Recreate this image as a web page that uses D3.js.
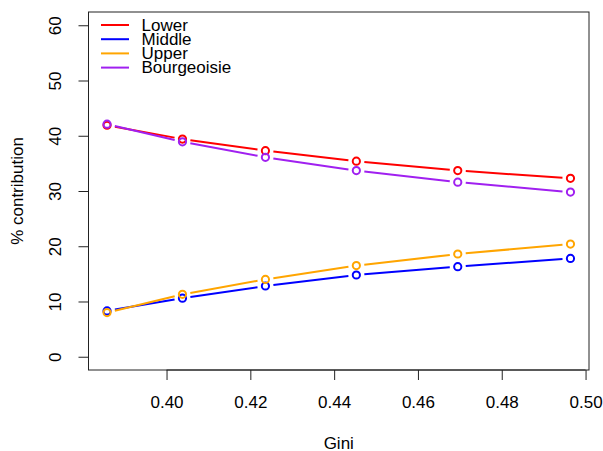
<!DOCTYPE html>
<html>
<head>
<meta charset="utf-8">
<script src="https://cdn.jsdelivr.net/npm/d3@7"></script>
<style>
  body { margin: 0; background: #fff; }
  text { font-family: "Liberation Sans", Arial, sans-serif; fill: #000; }
</style>
</head>
<body>
<div id="chart"></div>
<script>
// data
const gini = [0.3858, 0.4038, 0.4236, 0.4453, 0.4695, 0.4964];
const lower = [41.9, 39.4, 37.3, 35.4, 33.7, 32.3];
const middle = [8.3, 10.6, 12.8, 14.8, 16.3, 17.8];
const upper = [8.0, 11.3, 14.0, 16.5, 18.6, 20.4];
const bourgeoisie = [42.1, 38.9, 36.1, 33.7, 31.6, 29.8];
const seriesNames = ["Lower", "Middle", "Upper", "Bourgeoisie"];
const seriesColors = ["#FF0000", "#0000FF", "#FFA500", "#A020F0"];
const xTicks = [0.40, 0.42, 0.44, 0.46, 0.48, 0.50];
const yTicks = [0, 10, 20, 30, 40, 50, 60];

const series = [lower, middle, upper, bourgeoisie].map((vals, i) => ({
    name: seriesNames[i],
    color: seriesColors[i],
    points: vals.map((v, j) => ({ x: gini[j], y: v }))
}));

const width = 603, height = 451;
const plot = { left: 88.5, right: 589, top: 12, bottom: 370 };

const svg = d3.select("#chart")
    .append("svg")
    .attr("width", width)
    .attr("height", height);

svg.append("rect").attr("width", width).attr("height", height).attr("fill", "#fff");

// R style 4% padding on x
const xExt = d3.extent(gini);
const pad = (xExt[1] - xExt[0]) * 0.04;
const xScale = d3.scaleLinear().domain([xExt[0] - pad, xExt[1] + pad]).range([plot.left, plot.right]);
const yScale = d3.scaleLinear().domain([-2.4, 62.4]).range([plot.bottom, plot.top]);

// box
svg.append("rect")
    .attr("x", plot.left)
    .attr("y", plot.top)
    .attr("width", plot.right - plot.left)
    .attr("height", plot.bottom - plot.top)
    .attr("fill", "none")
    .attr("stroke", "#222")
    .attr("stroke-width", 1);

// x-axis
const xAxis = d3.axisBottom(xScale)
    .tickValues(xTicks)
    .tickFormat(d3.format(".2f"))
    .tickSize(10)
    .tickPadding(16);

svg.append("g")
    .attr("transform", `translate(0,${plot.bottom})`)
    .call(xAxis)
    .call(g => g.select(".domain").attr("d", `M${xScale(xTicks[0])},0H${xScale(xTicks[xTicks.length - 1])}`))
    .call(g => g.selectAll("line, path").attr("stroke", "#222"))
    .selectAll("text")
    .style("font-size", "17px")
    .attr("font-family", null);

// y-axis, labels rotated like R's las=0
const yAxis = d3.axisLeft(yScale)
    .tickValues(yTicks)
    .tickSize(10);

const yG = svg.append("g")
    .attr("transform", `translate(${plot.left},0)`)
    .call(yAxis)
    .call(g => g.select(".domain").attr("d", `M0,${yScale(yTicks[0])}V${yScale(yTicks[yTicks.length - 1])}`))
    .call(g => g.selectAll("line, path").attr("stroke", "#222"));

yG.selectAll(".tick text")
    .attr("x", null)
    .attr("dy", null)
    .attr("font-family", null)
    .style("font-size", "17px")
    .attr("text-anchor", "middle")
    .attr("dominant-baseline", "central")
    .attr("transform", "translate(-33,0) rotate(-90)");

d3.selectAll(".tick text").attr("font-family", null);
svg.selectAll("g").attr("font-family", null).attr("font-size", null);

// axis titles
svg.append("text")
    .attr("x", (plot.left + plot.right) / 2)
    .attr("y", 443)
    .attr("text-anchor", "middle")
    .attr("dominant-baseline", "central")
    .style("font-size", "17px")
    .text("Gini");

svg.append("text")
    .attr("transform", `translate(17,${(plot.top + plot.bottom) / 2}) rotate(-90)`)
    .attr("text-anchor", "middle")
    .attr("dominant-baseline", "central")
    .style("font-size", "17px")
    .text("% contribution");

// type = "b": segments with gaps round the points
const gap = 8;
series.forEach(s => {
    const g = svg.append("g");
    const segs = d3.pairs(s.points).map(([a, b]) => {
        const x1 = xScale(a.x), y1 = yScale(a.y), x2 = xScale(b.x), y2 = yScale(b.y);
        const len = Math.hypot(x2 - x1, y2 - y1);
        const ux = (x2 - x1) / len, uy = (y2 - y1) / len;
        return [x1 + ux * gap, y1 + uy * gap, x2 - ux * gap, y2 - uy * gap];
    });
    g.selectAll("line")
        .data(segs)
        .enter()
        .append("line")
        .attr("x1", d => d[0]).attr("y1", d => d[1])
        .attr("x2", d => d[2]).attr("y2", d => d[3])
        .attr("stroke", s.color)
        .attr("stroke-width", 2);
    g.selectAll("circle")
        .data(s.points)
        .enter()
        .append("circle")
        .attr("cx", d => xScale(d.x))
        .attr("cy", d => yScale(d.y))
        .attr("r", 3.6)
        .attr("fill", "none")
        .attr("stroke", s.color)
        .attr("stroke-width", 2);
});

// legend
const legend = svg.append("g");
const legendY = d3.scaleLinear().domain([0, 1]).range([25, 39.2]);
series.forEach((s, i) => {
    legend.append("line")
        .attr("x1", 101).attr("x2", 129)
        .attr("y1", legendY(i)).attr("y2", legendY(i))
        .attr("stroke", s.color)
        .attr("stroke-width", 2);
    legend.append("text")
        .attr("x", 141.5)
        .attr("y", legendY(i))
        .attr("dominant-baseline", "central")
        .style("font-size", "17px")
        .text(s.name);
});
</script>
</body>
</html>
